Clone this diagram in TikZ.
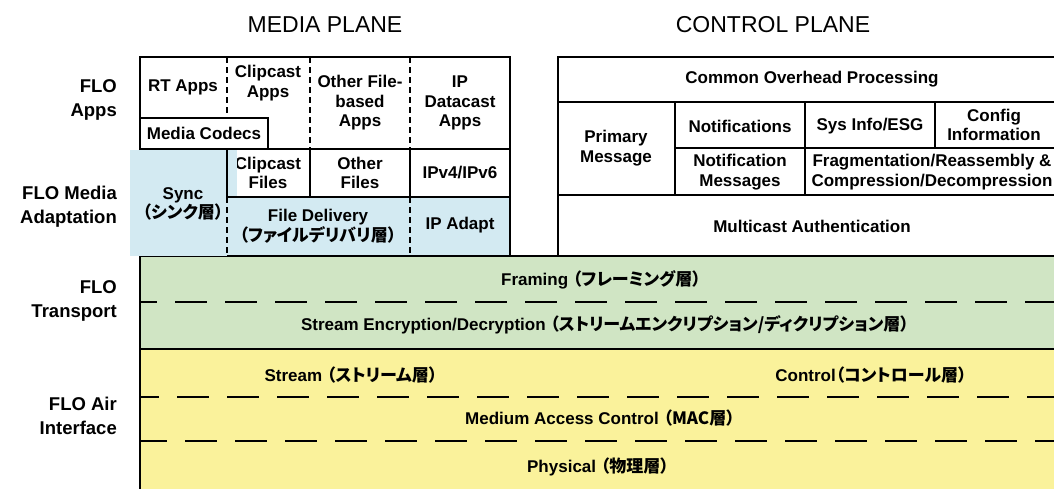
\documentclass[tikz,border=0pt]{standalone}
\usepackage{fontspec}
\setmainfont{Liberation Sans}
\newfontfamily\jp{Noto Sans CJK JP}[RawFeature=+palt]
\newcommand\J[1]{{\jp #1}}
\definecolor{blu}{RGB}{211,234,242}
\definecolor{grn}{RGB}{208,229,196}
\definecolor{yel}{RGB}{250,242,155}
\tikzset{
  lbl/.style={font=\fontsize{17}{19.5}\selectfont\bfseries, align=center, inner sep=0pt},
  side/.style={font=\fontsize{18.5}{24}\selectfont\bfseries, align=right, inner sep=0pt, anchor=east},
  ttl/.style={font=\fontsize{23}{26}\selectfont, inner sep=0pt},
  thk/.style={line width=2.6pt, line cap=rect},
  thn/.style={line width=1.3pt},
  vdash/.style={line width=1.2pt, dash pattern=on 6pt off 4pt},
  hdash/.style={line width=2.4pt, dash pattern=on 32pt off 18pt}
}
\begin{document}
\begin{tikzpicture}[x=1pt,y=-1pt]
\useasboundingbox (0,0) rectangle (1054,488);
\begin{scope}
\clip (0,0) rectangle (1054,488);
% backgrounds
\fill[grn] (140,256) rectangle (1060,349);
\fill[yel] (140,349) rectangle (1060,492);
\fill[blu] (227,197) rectangle (510,256);
% media plane outline
\draw[thk] (140,149) -- (140,57) -- (510,57) -- (510,256);
\draw[thk] (140,118) -- (268,118) -- (268,149);
\draw[thk] (140,149) -- (510,149);
\draw[thk] (310,149) -- (310,197);
\draw[thk] (410,149) -- (410,197);
\draw[thk] (227,197) -- (510,197);
\draw[vdash] (227,57) -- (227,118);
\draw[vdash] (310,57) -- (310,149);
\draw[vdash] (410,57) -- (410,149);
\draw[vdash] (410,197) -- (410,256);
% control plane
\draw[thk] (558,256) -- (558,57) -- (1070,57);
\draw[thk] (558,102) -- (1070,102);
\draw[thk] (558,195) -- (1070,195);
\draw[thk] (675,102) -- (675,195);
\draw[thk] (675,148) -- (1070,148);
\draw[thk] (805,102) -- (805,195);
\draw[thk] (935,102) -- (935,148);
\draw[thk] (558,256) -- (1070,256);
% lower layers
\draw[thn] (140,256) -- (1060,256);
\draw[thk] (510,256) -- (510,256);
\draw[hdash, dash phase=15] (140,302) -- (1060,302);
\draw[thk] (140,349) -- (1060,349);
\draw[hdash, dash phase=13] (140,397) -- (1060,397);
\draw[hdash, dash phase=5] (140,441) -- (1060,441);
\draw[thk] (140,256) -- (140,492);
\end{scope}

% titles
\node[ttl] (tm) at (325,25) {MEDIA PLANE};
\node[ttl] (tc) at (773,25) {CONTROL PLANE};
% side labels
\node[side] (s1) at (117,100) {FLO\\Apps};
\node[side] (s2) at (117,207) {FLO Media\\Adaptation};
\node[side] (s3) at (117,301) {FLO\\Transport};
\node[side] (s4) at (117,416) {FLO Air\\Interface};
% media texts
\node[lbl] (rt) at (183,87) {RT Apps};
\node[lbl] (cca) at (268,83) {Clipcast\\Apps};
\node[lbl] (ofa) at (360,103) {Other File-\\based\\Apps};
\node[lbl] (ipd) at (460,103) {IP\\Datacast\\Apps};
\node[lbl] (mc) at (204,133) {Media Codecs};
\node[lbl] (ccf) at (268,173) {Clipcast\\Files};
\node[lbl] (of) at (360,173) {Other\\Files};
\node[lbl] (ipv) at (460,173) {IPv4/IPv6};
\node[lbl] (fd) at (318,226) {File Delivery\\\J{（ファイルデリバリ層）}};
\node[lbl] (ipa) at (460,225) {IP Adapt};
% sync region
\fill[blu] (130,150.3) rectangle (227,256);
\fill[blu] (227,150.3) rectangle (237,195.7);
\draw[thk] (227,149) -- (227,197);
\draw[vdash] (227,197) -- (227,256);
\node[lbl] (sy) at (183,204) {Sync\\\J{（シンク層）}};
% control texts
\node[lbl] (cop) at (812,79) {Common Overhead Processing};
\node[lbl] (pm) at (616,148) {Primary\\Message};
\node[lbl] (nt) at (740,126) {Notifications};
\node[lbl] (si) at (870,126) {Sys Info/ESG};
\node[lbl] (ci) at (994,125) {Config\\Information};
\node[lbl] (nm) at (740,172) {Notification\\Messages};
\node[lbl] (fr) at (932,172) {Fragmentation/Reassembly \&\\Compression/Decompression};
\node[lbl] (ma) at (812,226) {Multicast Authentication};
% lower texts
\node[lbl] (fra) at (601,280) {Framing \J{（フレーミング層）}};
\node[lbl] (enc) at (605,325) {Stream Encryption/Decryption \J{（ストリームエンクリプション/ディクリプション層）}};
\node[lbl] (st) at (351,375) {Stream \J{（ストリーム層）}};
\node[lbl] (ct) at (871,375) {Control\J{（コントロール層）}};
\node[lbl] (mac) at (600,418) {Medium Access Control \J{（MAC層）}};
\node[lbl] (ph) at (598,467) {Physical \J{（物理層）}};
\end{tikzpicture}
\end{document}
